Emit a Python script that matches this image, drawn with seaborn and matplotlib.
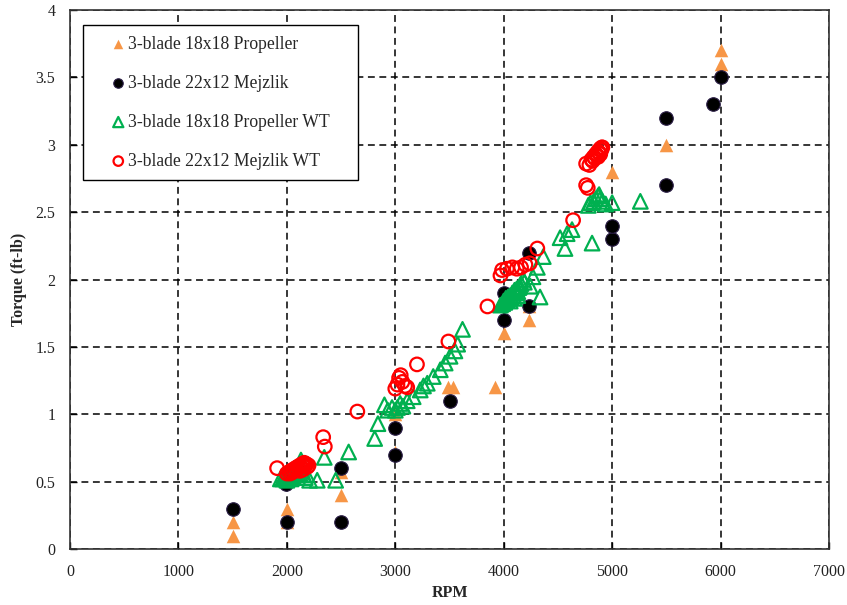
import matplotlib
matplotlib.use("Agg")
import matplotlib.pyplot as plt
import seaborn as sns

# ---------------- data ----------------
prop_rpm = [1500, 1500, 2000, 2000, 2500, 2500, 3000, 3000, 3490, 3530, 3920, 4000, 4230, 4230, 5000, 5500, 6000, 6000]
prop_tq = [0.2, 0.1, 0.3, 0.2, 0.4, 0.57, 0.72, 1.0, 1.2, 1.2, 1.2, 1.6, 1.7, 1.8, 2.8, 3.0, 3.6, 3.7]

mej_rpm = [1500, 2000, 1990, 2500, 2500, 3000, 3000, 3500, 4000, 4000, 4230, 4230, 5000, 5000, 5500, 5500, 5930, 6000]
mej_tq = [0.3, 0.2, 0.48, 0.2, 0.6, 0.7, 0.9, 1.1, 1.7, 1.9, 1.8, 2.2, 2.3, 2.4, 2.7, 3.2, 3.3, 3.5]

propwt_rpm = [1940, 1960, 1980, 1990, 2000, 2000, 2010, 2020, 2030, 2040, 2040, 2050, 2060, 2060,
              2070, 2080, 2090, 2100, 2100, 2110, 2120, 2120, 2130, 2140, 2150, 2170, 2210, 2280,
              2345, 2450, 2570, 2810, 2840, 2900, 2930, 2970, 3000, 3020, 3045, 3070, 3110, 3165,
              3230, 3260, 3295, 3350, 3415, 3460, 3505, 3550, 3575, 3620,
              3970, 3990, 4000, 4010, 4020, 4030, 4040, 4050, 4060, 4060, 4070, 4080, 4090, 4100,
              4100, 4110, 4120, 4130, 4130, 4140, 4150, 4160, 4180, 4190, 4245, 4270, 4310, 4335,
              4365, 4520, 4565, 4585, 4630,
              4780, 4800, 4815, 4830, 4850, 4870, 4880, 4890, 4910, 4940, 5000, 5260]
propwt_tq = [0.52, 0.52, 0.53, 0.53, 0.54, 0.51, 0.53, 0.55, 0.54, 0.56, 0.52, 0.55, 0.57, 0.53,
             0.56, 0.58, 0.57, 0.60, 0.55, 0.58, 0.62, 0.56, 0.66, 0.58, 0.55, 0.53, 0.51, 0.51,
             0.68, 0.51, 0.72, 0.82, 0.93, 1.07, 1.03, 1.05, 1.03, 1.05, 1.08, 1.06, 1.10, 1.13,
             1.18, 1.21, 1.23, 1.28, 1.33, 1.38, 1.43, 1.47, 1.52, 1.63,
             1.81, 1.82, 1.84, 1.83, 1.86, 1.85, 1.87, 1.86, 1.88, 1.84, 1.87, 1.90, 1.88, 1.92,
             1.86, 1.90, 1.93, 1.91, 1.88, 1.94, 1.95, 1.97, 2.00, 1.98, 1.95, 2.02, 2.09, 1.87,
             2.17, 2.31, 2.23, 2.34, 2.37,
             2.55, 2.57, 2.27, 2.58, 2.60, 2.62, 2.63, 2.60, 2.58, 2.56, 2.57, 2.58]

mejwt_rpm = [1910, 2000, 2020, 2030, 2040, 2050, 2060, 2070, 2080, 2090, 2100, 2110, 2120, 2120,
             2130, 2140, 2150, 2150, 2160, 2170, 2180, 2190, 2200, 2335, 2350,
             2650, 3000, 3020, 3035, 3050, 3065, 3090, 3110, 3200, 3490, 3850, 3970, 3985, 4030,
             4080, 4120, 4160, 4200, 4240, 4310, 4640, 4760, 4775, 4760, 4790, 4810, 4820, 4830,
             4840, 4850, 4860, 4870, 4870, 4880, 4890, 4890, 4900, 4905, 4910]
mejwt_tq = [0.60, 0.56, 0.57, 0.56, 0.58, 0.57, 0.59, 0.58, 0.60, 0.59, 0.61, 0.60, 0.62, 0.58,
            0.61, 0.63, 0.62, 0.59, 0.64, 0.62, 0.63, 0.61, 0.62, 0.83, 0.76,
            1.02, 1.19, 1.22, 1.27, 1.29, 1.24, 1.21, 1.20, 1.37, 1.54, 1.80, 2.03, 2.07, 2.08,
            2.09, 2.08, 2.09, 2.11, 2.12, 2.23, 2.44, 2.70, 2.68, 2.86, 2.85, 2.89, 2.88, 2.91,
            2.90, 2.93, 2.92, 2.95, 2.91, 2.94, 2.97, 2.93, 2.96, 2.98, 2.98]

labels = ["3-blade 18x18 Propeller", "3-blade 22x12 Mejzlik",
          "3-blade 18x18 Propeller WT", "3-blade 22x12 Mejzlik WT"]
x_ticks = [0, 1000, 2000, 3000, 4000, 5000, 6000, 7000]
y_ticks = [0, 0.5, 1, 1.5, 2, 2.5, 3, 3.5, 4]
y_ticklabels = ["0", "0.5", "1", "1.5", "2", "2.5", "3", "3.5", "4"]

ORANGE = "#F79646"
GREEN = "#00B050"
RED = "#FF0000"

# ---------------- plot ----------------
sns.set_theme(style="white")
plt.rcParams["font.family"] = ["Liberation Serif", "DejaVu Serif"]

fig = plt.figure(figsize=(8.47, 6.05), dpi=100)
ax = fig.add_axes([70 / 847, 56 / 605, 759 / 847, 539 / 605])

sns.scatterplot(x=prop_rpm, y=prop_tq, marker="^", s=95, color=ORANGE,
                edgecolor=ORANGE, linewidth=0, label=labels[0], ax=ax, zorder=3)
sns.scatterplot(x=mej_rpm, y=mej_tq, marker="o", s=95, color="black",
                edgecolor="#2a1d45", linewidth=0.8, label=labels[1], ax=ax, zorder=4)
sns.scatterplot(x=propwt_rpm, y=propwt_tq, marker="^", s=110, facecolor="none",
                edgecolor=GREEN, linewidth=1.6, label=labels[2], ax=ax, zorder=5)
sns.scatterplot(x=mejwt_rpm, y=mejwt_tq, marker="o", s=95, facecolor="none",
                edgecolor=RED, linewidth=1.6, label=labels[3], ax=ax, zorder=6)

ax.set_xlim(0, 7000)
ax.set_ylim(0, 4)
ax.set_xticks(x_ticks)
ax.set_xticklabels([str(v) for v in x_ticks])
ax.set_yticks(y_ticks)
ax.set_yticklabels(y_ticklabels)
ax.tick_params(axis="both", labelsize=11.5, direction="in", length=5, width=1,
               colors="black", bottom=True, left=True, pad=10.5)
ax.tick_params(axis="both", labelcolor="#222222")
ax.grid(True, color="black", linestyle=(0, (4.5, 3)), linewidth=1.1)
for sp in ax.spines.values():
    sp.set_color("#333333")
    sp.set_linewidth(1.2)
    sp.set_zorder(10)

ax.set_xlabel("RPM", fontsize=11.5, fontweight="bold", labelpad=4)
ax.set_ylabel("Torque (ft-lb)", fontsize=11.5, fontweight="bold", labelpad=6)

leg_top = 524 / 539
leg_bot = 371 / 539
leg = ax.legend(loc="upper left",
                bbox_to_anchor=(13 / 759, leg_bot, 275 / 759, leg_top - leg_bot),
                mode="expand", borderaxespad=0,
                fontsize=12.7, frameon=True, fancybox=False, edgecolor="black",
                framealpha=1, labelspacing=1.25, handlelength=2.8, handletextpad=-0.85,
                borderpad=0.6, markerscale=0.7)
leg.get_frame().set_linewidth(1.0)
leg.set_zorder(20)

fig.savefig("out.png", dpi=100)
